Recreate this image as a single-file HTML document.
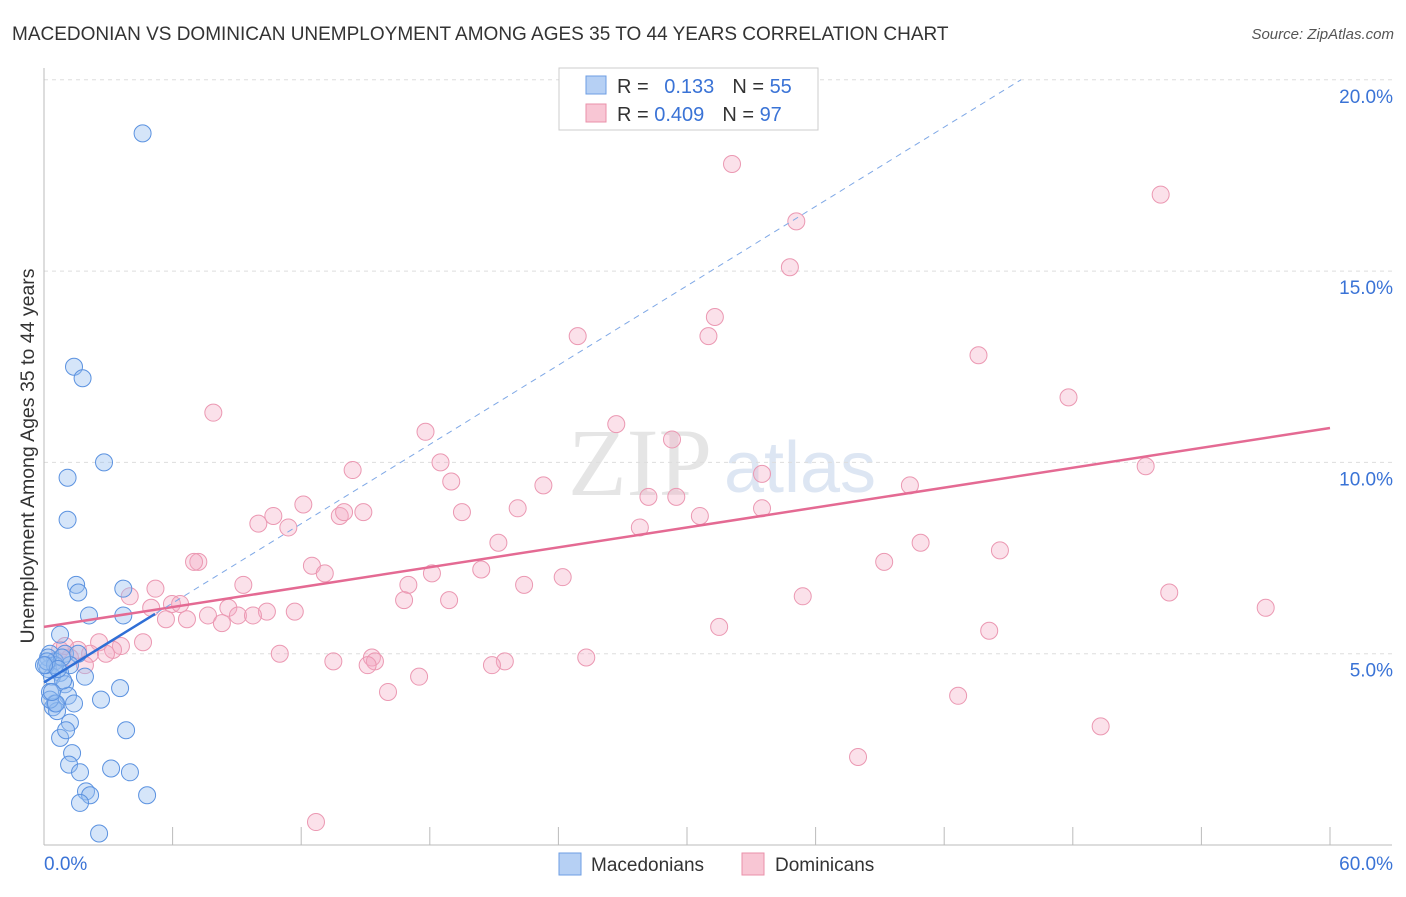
<!DOCTYPE html>
<html><head><meta charset="utf-8"><style>
body{margin:0;background:#fff;font-family:"Liberation Sans",sans-serif;}
</style></head><body>
<svg id="chart" width="1406" height="892">
<text x="12" y="40" font-size="19" fill="#333">MACEDONIAN VS DOMINICAN UNEMPLOYMENT AMONG AGES 35 TO 44 YEARS CORRELATION CHART</text>
<text x="1394" y="39" font-size="15" fill="#555" text-anchor="end" font-style="italic">Source: ZipAtlas.com</text>
<text x="640" y="495" font-size="96" fill="#e5e5e5" text-anchor="middle" font-family="Liberation Serif">ZIP</text>
<text x="800" y="492" font-size="72" fill="#dde6f3" text-anchor="middle">atlas</text>
<g id="grid"></g><g id="axes"></g><g id="pts"></g><g id="trend"></g>
<text transform="translate(34,456) rotate(-90)" font-size="19.5" fill="#333" text-anchor="middle">Unemployment Among Ages 35 to 44 years</text>
<g>
<rect x="559" y="68" width="259" height="62" fill="#fff" stroke="#ccc"/>
<rect x="586" y="76" width="20" height="18" fill="#b6d0f4" stroke="#6d9ee3"/>
<rect x="586" y="104" width="20" height="18" fill="#f8c6d4" stroke="#ea90aa"/>
<text x="617" y="93" font-size="20" fill="#333">R = <tspan fill="#3a73d6" dx="10">0.133</tspan><tspan dx="18" fill="#333">N = </tspan><tspan fill="#3a73d6">55</tspan></text>
<text x="617" y="121" font-size="20" fill="#333">R = <tspan fill="#3a73d6">0.409</tspan><tspan dx="18" fill="#333">N = </tspan><tspan fill="#3a73d6">97</tspan></text>
</g>
<g>
<rect x="559" y="853" width="22" height="22" fill="#b6d0f4" stroke="#6d9ee3"/>
<text x="591" y="871" font-size="19" fill="#333">Macedonians</text>
<rect x="742" y="853" width="22" height="22" fill="#f8c6d4" stroke="#ea90aa"/>
<text x="775" y="871" font-size="19" fill="#333">Dominicans</text>
</g>
</svg>
<script>
const NS='http://www.w3.org/2000/svg';
const yTicks=[5,10,15,20];
const yTickLabels=['5.0%','10.0%','15.0%','20.0%'];
const xTickLabels=['0.0%','60.0%'];
const blueX=[4.6,1.4,1.8,2.8,1.1,1.1,1.5,1.6,3.7,2.1,3.7,0.75,0.28,0.98,1.59,0.51,1.21,0.19,0.75,0.37,1.91,0.98,3.55,0.28,1.12,2.66,0.51,1.4,0.42,0.61,1.21,0.75,3.83,1.03,1.31,1.17,3.13,1.68,4.01,1.96,2.15,1.68,4.81,2.57,0.19,0.09,0.51,0.84,0.28,0.56,0.89,0.14,0.37,0.65,0.0];
const blueY=[18.6,12.5,12.2,10.0,9.6,8.5,6.8,6.6,6.7,6.0,6.0,5.5,5.0,5.0,5.0,4.8,4.7,4.6,4.5,4.4,4.4,4.2,4.1,4.0,3.9,3.8,3.7,3.7,3.6,3.5,3.2,2.8,3.0,3.0,2.4,2.1,2.0,1.9,1.9,1.4,1.3,1.1,1.3,0.3,4.9,4.7,4.7,4.9,3.8,3.7,4.3,4.8,4.0,4.6,4.7];
const pinkX=[32.1,52.1,35.1,34.8,31.3,31.0,24.9,43.6,47.8,7.9,26.7,17.8,29.3,18.5,51.4,14.4,19.0,33.5,23.3,40.4,28.2,29.5,12.1,22.1,14.9,13.8,14.0,19.5,10.7,10.0,11.4,30.6,33.5,27.8,21.2,40.9,44.6,7.2,7.0,12.5,39.2,20.4,18.1,13.1,24.2,9.3,17.0,22.4,5.2,52.5,35.4,16.8,18.9,4.0,5.0,5.97,6.35,57.0,8.6,10.4,11.7,7.65,9.05,5.69,6.67,9.75,8.3,31.5,44.1,2.57,4.62,3.59,3.22,1.586,2.15,2.89,11.0,25.3,13.5,15.3,15.44,21.5,15.1,20.9,17.5,16.05,42.65,49.3,37.98,12.69,0.75,1.21,0.51,1.91,0.98];
const pinkY=[17.8,17.0,16.3,15.1,13.8,13.3,13.3,12.8,11.7,11.3,11.0,10.8,10.6,10.0,9.9,9.8,9.5,9.7,9.4,9.4,9.1,9.1,8.9,8.8,8.7,8.6,8.7,8.7,8.6,8.4,8.3,8.6,8.8,8.3,7.9,7.9,7.7,7.4,7.4,7.3,7.4,7.2,7.1,7.1,7.0,6.8,6.8,6.8,6.7,6.6,6.5,6.4,6.4,6.5,6.2,6.3,6.3,6.2,6.2,6.1,6.1,6.0,6.0,5.9,5.9,6.0,5.8,5.7,5.6,5.3,5.3,5.2,5.1,5.1,5.0,5.0,5.0,4.9,4.8,4.9,4.8,4.8,4.7,4.7,4.4,4.0,3.9,3.1,2.3,0.6,5.1,4.9,4.8,4.7,5.2];
const pinkLine=[5.7,10.9];
const blueLine=[4.25,6.04,5.18];
const X0=44,X1=1330,Y0=845,YP=38.26;
const sx=v=>X0+(X1-X0)*v/60, sy=v=>Y0-v*YP;
function mk(tag,attrs,parent){const e=document.createElementNS(NS,tag);for(const k in attrs)e.setAttribute(k,attrs[k]);document.getElementById(parent).appendChild(e);return e;}
yTicks.forEach((t,i)=>{
 const g=mk('line',{x1:X0,x2:1392,y1:sy(t),y2:sy(t),stroke:'#ddd','stroke-dasharray':'4,4'},'grid');
 
 
 const l=mk('text',{x:1393,y:sy(t)+23,'font-size':19,fill:'#3a73d6','text-anchor':'end'},'axes');
 l.textContent=yTickLabels[i];
 
 
});
const ax=mk('line',{x1:X0,x2:X0,y1:68,y2:Y0,stroke:'#bbb'},'axes');


const bx=mk('line',{x1:X0,x2:1392,y1:Y0,y2:Y0,stroke:'#bbb'},'axes');


for(let i=0;i<=10;i++){const v=i*6;const t=mk('line',{x1:sx(v),x2:sx(v),y1:Y0,y2:Y0-18,stroke:'#bbb'},'axes');
 
 }
xTickLabels.forEach((s,i)=>{const t=mk('text',{x:i?1393:44,y:870,'font-size':19,fill:'#3a73d6','text-anchor':i?'end':'start'},'axes');t.textContent=s;
 
 });
pinkX.forEach((x,i)=>{const c=mk('circle',{cx:sx(x),cy:sy(pinkY[i]),r:8.5,fill:'rgba(244,170,195,0.35)',stroke:'#eb98b2','stroke-width':1},'pts');
 
 });
blueX.forEach((x,i)=>{const c=mk('circle',{cx:sx(x),cy:sy(blueY[i]),r:8.5,fill:'rgba(150,190,240,0.4)',stroke:'#5b92e0','stroke-width':1},'pts');
 
 });
const pl=mk('line',{x1:sx(0),y1:sy(pinkLine[0]),x2:sx(60),y2:sy(pinkLine[1]),stroke:'#e46a93','stroke-width':2.5},'trend');


const slope=(blueLine[1]-blueLine[0])/blueLine[2];
const xe=(20.0-blueLine[0])/slope;
const bd=mk('line',{x1:sx(0),y1:sy(blueLine[0]),x2:sx(xe),y2:sy(20.0),stroke:'#7fa8e6','stroke-width':1,'stroke-dasharray':'6,5'},'trend');


const bl=mk('line',{x1:sx(0),y1:sy(blueLine[0]),x2:sx(blueLine[2]),y2:sy(blueLine[1]),stroke:'#2f6fd6','stroke-width':2.5},'trend');


</script>
</body></html>
